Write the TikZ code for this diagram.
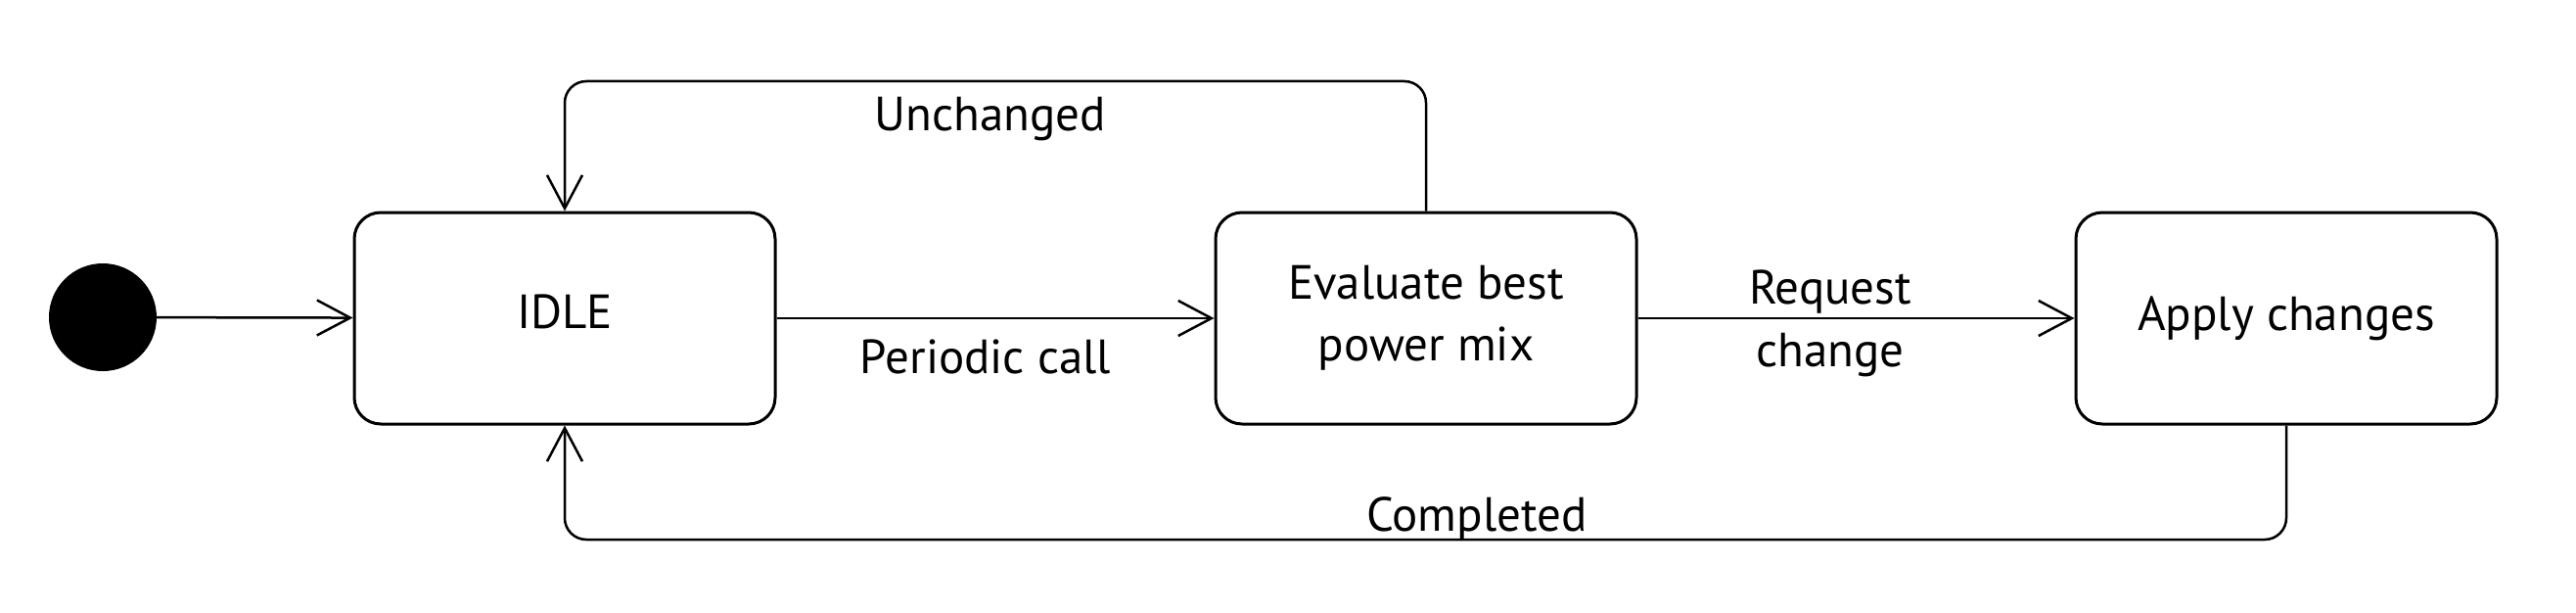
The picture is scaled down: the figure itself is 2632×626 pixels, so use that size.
\documentclass[tikz,border=0pt]{standalone}
\usepackage{fontspec}
\setmainfont{PT Sans}
\usetikzlibrary{arrows.meta}
\begin{document}
\begin{tikzpicture}[x=1pt,y=-1pt,
 state/.style={draw, line width=3pt, rounded corners=27pt, minimum width=430pt, minimum height=216pt, align=center, font=\fontsize{49}{63}\selectfont},
 lbl/.style={font=\fontsize{49}{64}\selectfont, align=center, inner sep=2pt},
 conn/.style={line width=2.5pt, -{Straight Barb[length=34pt,width=36pt]}, rounded corners=22pt}]
\useasboundingbox (0,0) rectangle (2632,626);
\node[circle, fill, minimum size=110pt, inner sep=0pt] (init) at (105,324) {};
\node[state, text depth=14pt] (idle) at (577,325) {IDLE};
\node[state] (eval) at (1457,325) {Evaluate best\\power mix};
\node[state] (apply) at (2336,325) {Apply changes};
\coordinate (top) at (1017,83);
\coordinate (bot) at (1457,551);
\draw[conn] (init) -- (idle);
\draw[conn] (idle) -- (eval);
\draw[conn] (eval) -- (apply);
\draw[conn] (eval.north) |- (top) -| (idle.north);
\draw[conn] (apply.south) |- (bot) -| (idle.south);
\node[lbl] (lu) at (1012,122) {Unchanged};
\node[lbl] (lp) at (1007,364) {Periodic call};
\node[lbl] (lr) at (1870,330) {Request\\change};
\node[lbl] (lc) at (1509,530) {Completed};
\end{tikzpicture}
\end{document}
